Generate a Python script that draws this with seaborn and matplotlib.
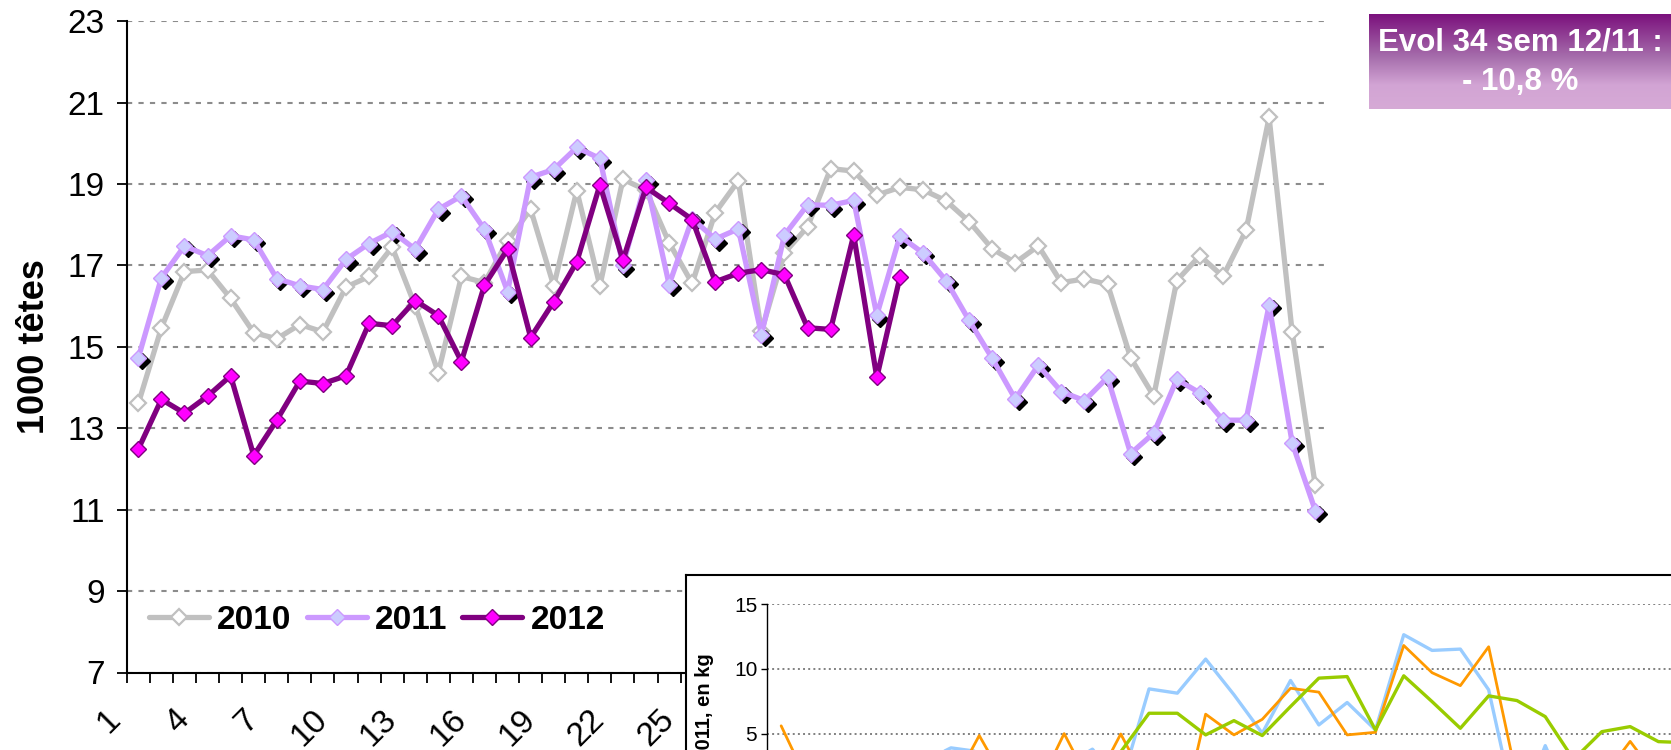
import numpy as np
import pandas as pd
import matplotlib
matplotlib.use("Agg")
import matplotlib.pyplot as plt
import matplotlib.transforms as mtransforms
from matplotlib.colors import LinearSegmentedColormap
import seaborn as sns

# weekly slaughter, 1000 heads
weeks = list(range(1, 53))
y2010 = [13.61, 15.47, 16.85, 16.89, 16.19, 15.35, 15.2, 15.55, 15.37, 16.47,
         16.73, 17.45, 16.0, 14.37, 16.73, 16.58, 17.6, 18.38, 16.5, 18.84,
         16.5, 19.12, 18.85, 17.56, 16.56, 18.3, 19.08, 15.38, 17.31, 17.95,
         19.38, 19.32, 18.73, 18.92, 18.86, 18.59, 18.08, 17.41, 17.07, 17.48,
         16.58, 16.67, 16.54, 14.73, 13.79, 16.63, 17.24, 16.73, 17.86, 20.64,
         15.36, 11.6]
y2011 = [14.73, 16.7, 17.48, 17.24, 17.73, 17.63, 16.68, 16.5, 16.41, 17.15,
         17.54, 17.83, 17.4, 18.38, 18.71, 17.89, 16.36, 19.17, 19.36, 19.9,
         19.63, 17.0, 19.1, 16.53, 18.15, 17.65, 17.9, 15.3, 17.75, 18.49,
         18.48, 18.6, 15.78, 17.72, 17.31, 16.63, 15.65, 14.72, 13.72, 14.55,
         13.9, 13.68, 14.25, 12.38, 12.88, 14.2, 13.87, 13.2, 13.2, 16.03,
         12.64, 10.98]
y2012 = [12.49, 13.71, 13.37, 13.79, 14.29, 12.33, 13.2, 14.16, 14.1, 14.29,
         15.58, 15.52, 16.14, 15.77, 14.64, 16.52, 17.4, 15.23, 16.11, 17.09,
         18.98, 17.13, 18.92, 18.53, 18.13, 16.6, 16.81, 16.9, 16.77, 15.47,
         15.43, 17.75, 14.25, 16.71]
x_tick_weeks = list(range(1, 53, 3))
x_tick_labels = [str(w) for w in x_tick_weeks]

# inset chart (kg), mostly cut off by the page
ins_weeks = list(range(1, 35))
ins_blue = [1.5, 2.0, 1.2, 2.2, 2.5, 2.8, 3.9, 3.6, 2.0, 1.8, 2.5, 3.8, 1.0, 8.45,
            8.12, 10.75, 8.0, 5.03, 9.1, 5.67, 7.4, 5.28, 12.63, 11.42, 11.52, 8.38,
            -1.5, 4.07, -1.0, 1.0, 1.5, 2.0, 1.0, 1.5]
ins_orange = [5.6, 1.0, 1.5, 2.0, 1.2, 1.5, 0.8, 4.85, 1.0, 0.5, 5.0, 0.8, 4.97, 0.8,
              -3.0, 6.5, 4.9, 6.1, 8.5, 8.2, 4.9, 5.1, 11.8, 9.7, 8.7, 11.7,
              1.5, 2.0, 2.2, 1.5, 4.4, 1.5, 2.5, 2.0]
ins_green = [1.0, 1.5, 2.0, 1.8, 1.2, 2.2, 2.5, 1.5, 2.0, 2.4, 1.8, 2.0, 3.6, 6.57,
             6.57, 4.9, 6.0, 4.85, 7.09, 9.28, 9.4, 5.28, 9.46, 7.47, 5.41, 7.91,
             7.55, 6.31, 3.0, 5.15, 5.54, 4.38, 4.3, 4.0]
ins_label = "Écart 2012/2011, en kg"
evol_line1 = "Evol 34 sem 12/11 :"
evol_line2 = "- 10,8 %"

sns.set_theme(style="ticks")
plt.rcParams['font.family'] = ['Liberation Sans', 'DejaVu Sans']
plt.rcParams['text.color'] = 'black'
plt.rcParams['axes.labelcolor'] = 'black'
plt.rcParams['xtick.color'] = 'black'
plt.rcParams['ytick.color'] = 'black'

W, H = 1671, 750
fig = plt.figure(figsize=(W / 100, H / 100), dpi=100)
ax = fig.add_axes([126.8 / W, 1 - 672.5 / H, 1200 / W, 651.2 / H])

df = pd.DataFrame({'week': weeks, 'y2010': y2010, 'y2011': y2011})
df12 = pd.DataFrame({'week': weeks[:len(y2012)], 'y2012': y2012})

ms = 7.8
sns.lineplot(data=df, x='week', y='y2010', ax=ax, color='#C0C0C0', lw=3.8,
             marker='D', ms=ms, mfc='white', mec='#C0C0C0', mew=1.6,
             label='2010', zorder=3)
shadow = mtransforms.offset_copy(ax.transData, fig=fig, x=3.5, y=-3.5, units='dots')
ax.plot(df['week'], df['y2011'], ls='none', marker='D', ms=ms, color='black',
        mec='black', transform=shadow, zorder=4)
sns.lineplot(data=df, x='week', y='y2011', ax=ax, color='#CC99FF', lw=3.8,
             marker='D', ms=ms, mfc='#CCCCFF', mec='#CC99FF', mew=1.0,
             label='2011', zorder=5)
sns.lineplot(data=df12, x='week', y='y2012', ax=ax, color='#800080', lw=3.8,
             marker='D', ms=ms, mfc='#FF00FF', mec='#800080', mew=1.0,
             label='2012', zorder=6)

ax.set_xlim(0.5, 52.5)
ax.set_ylim(7, 23)
ax.set_yticks(range(7, 24, 2))
ax.set_xticks(x_tick_weeks)
ax.set_xticks(np.arange(0.5, 53, 1), minor=True)
ax.tick_params(axis='x', which='major', length=0, labelbottom=False)
ax.tick_params(axis='x', which='minor', length=7, width=1.3, color='black',
               direction='out', bottom=True)
ax.tick_params(axis='y', length=7, width=1.3, color='black', direction='out',
               labelsize=24, left=True, pad=9)

# rotated week labels, set left of each category like the original
lab_tr = (mtransforms.blended_transform_factory(ax.transData, ax.transAxes)
          + mtransforms.ScaledTranslation(-0.34, -0.31, fig.dpi_scale_trans))
for w, t in zip(x_tick_weeks, x_tick_labels):
    ax.text(w, 0, t, transform=lab_tr, rotation=45, ha='right', va='top',
            rotation_mode='anchor', fontsize=24, clip_on=False)

ax.yaxis.grid(True, ls=(0, (2.5, 3)), color='#8C8C8C', lw=1.5)
ax.set_axisbelow(True)
for side in ['top', 'right']:
    ax.spines[side].set_visible(False)
for side in ['left', 'bottom']:
    ax.spines[side].set_color('black')
    ax.spines[side].set_linewidth(1.5)
ax.set_xlabel('')
ax.set_ylabel('1000 têtes', fontsize=26, weight='bold')
ax.yaxis.set_label_coords(-0.062, 0.5)

ax.legend(loc='center left', bbox_to_anchor=(0.01, 0.08), ncol=3,
          frameon=True, fancybox=False, edgecolor='none', facecolor='white',
          framealpha=1, prop={'weight': 'bold', 'size': 24}, handlelength=1.8,
          handletextpad=0.25, columnspacing=0.45, borderpad=0.3,
          borderaxespad=0, numpoints=1)

# evolution box with gradient
eax = fig.add_axes([1369.3 / W, 1 - 109.3 / H, (W - 1369.3) / W, 95.3 / H], zorder=8)
cmap = LinearSegmentedColormap.from_list('evol', [(0, '#7A0F7C'), (0.45, '#A56CAB'),
                                                  (0.75, '#D2A4D4'), (1, '#D6AAD6')])
grad = np.linspace(0, 1, 200).reshape(-1, 1)
eax.imshow(grad, aspect='auto', cmap=cmap, extent=[0, 1, 0, 1], origin='upper')
eax.set_xlim(0, 1)
eax.set_ylim(0, 1)
eax.axis('off')
eax.text(0.5, 0.70, evol_line1, color='white', weight='bold', fontsize=22.5,
         ha='center', va='center')
eax.text(0.5, 0.29, evol_line2, color='white', weight='bold', fontsize=22.5,
         ha='center', va='center')

# inset chart frame
box = fig.add_axes([686 / W, -0.3, 1.0, (H - 574.7) / H + 0.3], zorder=5)
box.set_xticks([])
box.set_yticks([])
box.set_facecolor('white')
for s in box.spines.values():
    s.set_color('black')
    s.set_linewidth(1.5)

px_unit = 12.96
ins_bottom = 604 + 30 * px_unit
ins = fig.add_axes([767 / W, 1 - ins_bottom / H, 52 * 28.3 / W, 30 * px_unit / H], zorder=6)
ins.patch.set_alpha(0)
dfi = pd.DataFrame({'week': ins_weeks, 'blue': ins_blue, 'orange': ins_orange,
                    'green': ins_green})
sns.lineplot(data=dfi, x='week', y='blue', ax=ins, color='#99CCFF', lw=2.4)
sns.lineplot(data=dfi, x='week', y='orange', ax=ins, color='#FF9900', lw=2.0)
sns.lineplot(data=dfi, x='week', y='green', ax=ins, color='#99CC00', lw=2.4)
ins.set_xlim(0.5, 52.5)
ins.set_ylim(-15, 15)
ins.set_yticks([5, 10, 15])
ins.set_xticks([])
ins.tick_params(axis='y', labelsize=15, length=4, width=1, color='black', left=True, pad=3)
ins.yaxis.grid(True, ls=':', color='#808080', lw=1.4)
for side in ['top', 'right', 'bottom']:
    ins.spines[side].set_visible(False)
ins.spines['left'].set_color('black')
ins.spines['left'].set_linewidth(1)
ins.set_xlabel('')
ins.set_ylabel('')
fig.text(703 / W, 1 - 653 / H, ins_label, rotation=90, ha='center', va='top',
         fontsize=14.5, weight='bold', zorder=10)

fig.savefig('out.png', dpi=100, facecolor='white')
